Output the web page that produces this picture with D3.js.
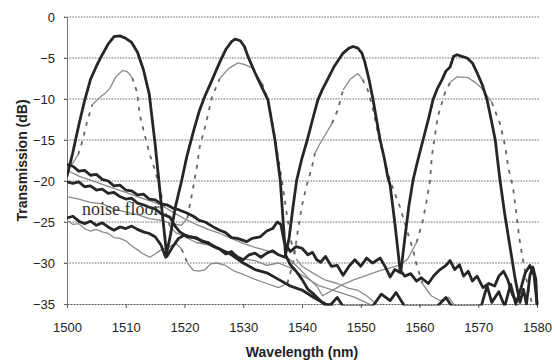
<!DOCTYPE html>
<html>
<head>
<meta charset="utf-8">
<script src="https://cdn.jsdelivr.net/npm/d3@7"></script>
<style>
  html, body { margin: 0; padding: 0; background: #fff; }
  svg { display: block; }
</style>
</head>
<body>
<svg id="chart" width="555" height="362"></svg>
<script>
// ---------------- DATA ----------------
const xTicks = [1500, 1510, 1520, 1530, 1540, 1550, 1560, 1570, 1580];
const yTicks = [0, -5, -10, -15, -20, -25, -30, -35];
const xTitle = "Wavelength (nm)";
const yTitle = "Transmission (dB)";
const annotation = "noise floor";

// Solid dark channel curves [wavelength nm, transmission dB]
const ch1Dark = [[1500,-19.4],[1501,-16.5],[1502,-13.2],[1503,-10.2],[1504,-7.6],[1505,-6.0],[1506,-4.6],[1507,-3.3],[1508,-2.4],[1509,-2.3],[1510,-2.6],[1511,-3.1],[1512,-4.3],[1513,-6.4],[1514,-9.4],[1515,-15.5],[1516,-22.5],[1517,-29.2],[1518,-28],[1519,-27],[1520,-26.6],[1522,-27],[1524,-27.6],[1526,-28.3],[1528,-29],[1530,-30],[1532,-30.8],[1534,-31.2],[1536,-32],[1538,-32.8],[1540,-33.3],[1542,-34.2],[1544,-35],[1546,-35.5]];
const ch2Dark = [[1500,-24.5],[1501,-24.3],[1502,-24.9],[1503,-25.2],[1504,-24.9],[1505,-25.4],[1506,-25.1],[1507,-25.6],[1508,-26],[1509,-25.6],[1510,-25.8],[1511,-25.5],[1512,-25.9],[1513,-26.2],[1514,-26.4],[1515,-26.8],[1516,-27.8],[1516.8,-29.3],[1517.5,-27],[1518.5,-23],[1519.5,-20],[1520.4,-17],[1521.5,-14],[1522.5,-11.5],[1523.5,-9.6],[1524.5,-8],[1526,-5.5],[1527,-4],[1528,-3],[1528.6,-2.7],[1529.5,-2.9],[1530.2,-3.6],[1530.8,-4.8],[1532,-6.8],[1533,-8.3],[1534.2,-10.1],[1535.4,-15],[1536.3,-19.9],[1536.8,-25],[1537.2,-29],[1538,-30.2],[1539,-31],[1540,-32],[1541,-33.2],[1542,-33.8],[1543,-34.5],[1544,-35.2],[1545,-35],[1546,-34.2],[1547,-35.3],[1552,-35.3],[1553.5,-33.8],[1555,-34.6],[1556,-33.6],[1557.5,-35.3],[1563,-35.3],[1564.5,-34.2],[1565.5,-35.3],[1570.5,-35.3],[1571.5,-32.8],[1572.3,-34.8],[1573.5,-33.5],[1574.5,-35.3],[1575.5,-32.6],[1576.5,-35.3]];
const ch3Dark = [[1500,-20.1],[1501,-20.3],[1502,-20.1],[1503,-20.7],[1504,-20.6],[1505,-21.1],[1506,-21],[1507,-21.5],[1508,-21.4],[1509,-21.9],[1510,-22.2],[1511,-22.1],[1512,-22.7],[1513,-22.9],[1514,-23.2],[1515,-23.4],[1516,-24],[1517.5,-24.4],[1518.5,-25.6],[1519.2,-26.2],[1520.5,-26.8],[1522,-26.9],[1523,-27.4],[1524,-27.5],[1525,-28.0],[1526,-28.3],[1527,-28.9],[1528,-28.6],[1529,-29.3],[1530,-29.6],[1531,-29],[1532,-28.8],[1533,-29.3],[1534,-28.8],[1535,-28.5],[1536,-29],[1537.1,-29.3],[1537.8,-27],[1538.5,-23],[1539.1,-19.9],[1540,-17.2],[1540.9,-15],[1541.8,-12.5],[1542.7,-10.1],[1543.5,-8.8],[1544.3,-7.7],[1545.5,-6],[1547,-4.4],[1548,-3.8],[1548.7,-3.6],[1549.5,-3.8],[1550.2,-4.4],[1550.7,-5.5],[1551.4,-7.6],[1552.1,-10.1],[1552.7,-12.6],[1553.3,-15],[1554,-17.2],[1554.6,-19.5],[1555,-20.5],[1555.8,-25.1],[1556.7,-30.9],[1557.5,-31.6],[1558.5,-31.3],[1559.5,-32.2],[1560.3,-31.8],[1561.5,-32.5],[1562.5,-31.5],[1563.5,-30.8],[1564.5,-30.3],[1565.2,-29.7],[1566,-30.8],[1566.8,-30.2],[1567.5,-31.6],[1568.3,-31],[1569,-32.2],[1569.8,-31.6],[1570.8,-33],[1571.8,-32.5],[1572.8,-32.8],[1573.5,-31.6],[1574.3,-31],[1575,-32],[1575.8,-33.8],[1576.5,-34.8],[1577.3,-33],[1578,-31.2],[1578.8,-30.3],[1579.5,-31.5],[1580,-35]];
const ch4Dark = [[1500,-18],[1501,-18.2],[1502,-18.8],[1503,-18.7],[1504,-19.3],[1505,-19.2],[1506,-19.8],[1507,-20],[1508,-20.6],[1509,-20.5],[1510,-21.1],[1511,-21.2],[1512,-21.7],[1513,-21.6],[1514,-22.2],[1515,-22.3],[1516,-22.8],[1517,-22.9],[1518,-23.3],[1519,-23.5],[1520.4,-23.9],[1521.5,-24.3],[1522.5,-24.8],[1523.5,-25],[1524.9,-25.6],[1526,-26],[1527,-26.3],[1528,-26.9],[1529,-27],[1530.6,-27.4],[1531.5,-27],[1532.9,-26.8],[1534,-26.1],[1535,-25.8],[1535.8,-25],[1536.4,-25.3],[1537,-27.5],[1538,-28.6],[1539,-28],[1540,-28.2],[1541,-29],[1541.8,-28.7],[1542.5,-29.6],[1543.2,-29.9],[1544,-29.2],[1545,-30.4],[1546,-30.3],[1547,-31.5],[1548,-30.4],[1549,-29.6],[1550,-30.4],[1551,-29.4],[1552,-30],[1553.3,-29.4],[1554.2,-30.5],[1555,-31.7],[1555.8,-30.8],[1556.8,-31.2],[1557.5,-27],[1558.2,-23],[1558.9,-19.9],[1559.7,-17.5],[1560.6,-15],[1561.5,-12.5],[1562.3,-10.1],[1563,-8.8],[1563.8,-7.7],[1564.5,-6.6],[1565.2,-6.1],[1565.8,-4.8],[1566.4,-4.6],[1567.2,-4.8],[1568.1,-5],[1569,-5.6],[1569.8,-6.8],[1570.7,-8.3],[1571.5,-10.1],[1572.2,-12.5],[1572.9,-15],[1573.3,-17.5],[1573.7,-19.9],[1574.5,-24],[1575.4,-28],[1576.3,-32],[1577.1,-34.8],[1577.7,-33.2],[1578.2,-35],[1578.8,-31.5],[1579.3,-30.5],[1579.8,-32],[1580,-35]];

// Grey (dashed on the flanks) channel curves
const ch1Grey = [[1500,-18.6],[1501,-17.8],[1501.9,-16.8],[1502.6,-15.2],[1503.4,-12.8],[1504.3,-10.7],[1505.6,-9.8],[1506.5,-9.3],[1507.3,-8.7],[1508.3,-7.3],[1509.5,-6.5],[1510.3,-6.7],[1511.1,-7.4],[1511.9,-9.1],[1512.4,-12],[1513.3,-14.6],[1514.1,-16.8],[1515,-18.7],[1515.8,-21],[1516.5,-23],[1517.5,-25.5],[1518.5,-26.3],[1520,-26.8],[1522,-27.5],[1524,-27.8],[1526,-28.4],[1528,-28.7],[1530,-29.5],[1532,-29.7],[1534,-30.3],[1536,-30],[1538,-30.6],[1540,-31.5],[1543,-32.8],[1546,-33.5],[1549,-34.2],[1552,-35.2]];
const ch2Grey = [[1500,-21.9],[1502,-22.2],[1504,-22.6],[1506,-22.8],[1508,-23.4],[1510,-23.8],[1512,-24.1],[1514,-24.6],[1516,-24.8],[1518,-25.2],[1519.5,-25.4],[1520.5,-24.5],[1521.3,-21.5],[1522.1,-18.3],[1522.6,-15.8],[1523.5,-13.4],[1524.7,-9.7],[1526,-7.5],[1527.5,-6.3],[1529.1,-5.6],[1530.3,-5.8],[1531.5,-6.2],[1533.2,-8.1],[1534.2,-10.1],[1535,-13],[1535.8,-16.5],[1536.6,-20],[1537.4,-24],[1538.2,-27.5],[1539,-29.5],[1540,-30.4],[1542,-31.3],[1544,-32.1],[1546,-32.5],[1548,-33.1],[1549.4,-33.3],[1551,-34],[1553,-35.2]];
const ch3Grey = [[1500,-24.8],[1501,-25.3],[1502,-25.2],[1503,-25.8],[1504,-26.1],[1505,-25.9],[1506,-26.2],[1507,-26.4],[1508,-26.9],[1509,-27],[1510,-27.3],[1511,-27.9],[1512,-28.4],[1513,-28.9],[1514.1,-29.3],[1515,-28.9],[1516,-28.4],[1517.5,-28],[1518.5,-27.6],[1519.5,-28.3],[1520.5,-30],[1521.5,-30.9],[1522.5,-31],[1523.5,-30.8],[1524.5,-30.1],[1525.5,-30],[1527,-30.3],[1528.5,-31],[1530,-31.4],[1532,-32],[1534,-32.5],[1536,-33],[1537.5,-32.5],[1538.5,-30],[1539.3,-26],[1540,-23],[1540.8,-20.5],[1541.7,-18.3],[1542.2,-16.6],[1543.1,-15.4],[1545.1,-13],[1546.1,-11.3],[1547,-8.9],[1548.2,-7.6],[1549.5,-6.9],[1550.3,-7.6],[1551.2,-8.9],[1552.1,-11.3],[1552.9,-14.1],[1553.8,-16.8],[1554.8,-19.5],[1555.8,-21.5],[1556.7,-23.2],[1557.2,-24.4],[1558.2,-26.8],[1558.9,-28.4],[1559.5,-30.2],[1560.5,-32.5],[1562,-34],[1563.5,-34.6],[1565,-34.2],[1566,-35.2]];
const ch4Grey = [[1500,-18.7],[1502,-19.4],[1504,-19.9],[1506,-20.4],[1508,-20.9],[1510,-21.4],[1512,-21.9],[1514,-22.4],[1516,-22.9],[1518,-23.8],[1520,-24.6],[1522,-25.3],[1524,-25.9],[1526,-26.4],[1528,-27],[1530,-27.6],[1532,-28.1],[1534,-28.5],[1536,-29],[1538,-29.6],[1539.7,-30.8],[1541,-31.8],[1542.5,-32.8],[1543.5,-34],[1545,-33.4],[1547,-32.6],[1549,-32],[1551,-31.5],[1553,-31],[1555,-30.6],[1556.5,-30.3],[1558,-29.5],[1559.5,-27.5],[1560.5,-25],[1561.2,-22.5],[1561.8,-19.9],[1562.1,-17],[1562.6,-14.6],[1563.1,-12.2],[1563.8,-10.5],[1564.3,-9.3],[1565.2,-8],[1566.4,-7.3],[1568.3,-7.4],[1569.5,-8],[1570.6,-8.7],[1572.3,-10.4],[1573.7,-13],[1574.6,-15.8],[1575.1,-18.3],[1575.9,-20.7],[1576.5,-24],[1577,-27],[1577.6,-29.6],[1578.2,-32],[1578.8,-34],[1579.3,-35.2]];

const darkSeries = [ch1Dark, ch2Dark, ch3Dark, ch4Dark];
const greySeries = [ch1Grey, ch2Grey, ch3Grey, ch4Grey];

// ---------------- DRAW ----------------
const svg = d3.select("#chart");
const x = d3.scaleLinear().domain([1500, 1580]).range([67, 537]);
const y = d3.scaleLinear().domain([-35, 0]).range([304, 17]);

svg.append("defs").append("clipPath").attr("id", "plotclip")
  .append("rect")
  .attr("x", x(1500)).attr("y", y(0) - 2)
  .attr("width", x(1580) - x(1500) + 3)
  .attr("height", y(-35) - y(0) + 3.5);

// gridlines
svg.append("g").selectAll("line")
  .data(yTicks.filter(d => d !== -35))
  .join("line")
  .attr("x1", x(1500) - 3).attr("x2", x(1580) + 3)
  .attr("y1", d => y(d)).attr("y2", d => y(d))
  .attr("stroke", "#6e6e6e").attr("stroke-width", 1)
  .attr("stroke-dasharray", "1.6,1.2");

// x axis
const xAxis = svg.append("g")
  .attr("transform", `translate(0,${y(-35)})`)
  .call(d3.axisBottom(x).tickValues(xTicks).tickSize(4).tickPadding(15).tickSizeOuter(0).tickFormat(d3.format("d")));
xAxis.select(".domain").attr("stroke", "#555").attr("stroke-dasharray", "2,1");
xAxis.selectAll(".tick line").attr("stroke", "#555");
xAxis.selectAll("text").attr("font-family", "Liberation Sans, Arial, sans-serif")
  .attr("font-size", 13).attr("fill", "#222");

// y axis
const yAxis = svg.append("g")
  .attr("transform", `translate(${x(1500)},0)`)
  .call(d3.axisLeft(y).tickValues(yTicks).tickSize(3).tickPadding(9).tickSizeOuter(0).tickFormat(d3.format("d")));
yAxis.select(".domain").attr("stroke", "#777");
yAxis.selectAll(".tick line").attr("stroke", "#666");
yAxis.selectAll("text").attr("font-family", "Liberation Sans, Arial, sans-serif")
  .attr("font-size", 13).attr("fill", "#222");

// titles
svg.append("text")
  .attr("x", (x(1500) + x(1580)) / 2).attr("y", 357)
  .attr("text-anchor", "middle")
  .attr("font-family", "Liberation Sans, Arial, sans-serif")
  .attr("font-weight", "bold").attr("font-size", 14).attr("fill", "#222")
  .text(xTitle);
svg.append("text")
  .attr("transform", `translate(27,${(y(0) + y(-35)) / 2}) rotate(-90)`)
  .attr("text-anchor", "middle")
  .attr("font-family", "Liberation Sans, Arial, sans-serif")
  .attr("font-weight", "bold").attr("font-size", 14).attr("fill", "#222")
  .text(yTitle);

const plot = svg.append("g").attr("clip-path", "url(#plotclip)");
const line = d3.line().x(d => x(d[0])).y(d => y(d[1]));

// grey curves: solid where flat, dashed on steep flanks
function runs(data) {
  const out = [];
  let cur = null;
  for (let i = 0; i < data.length - 1; i++) {
    const a = data[i], b = data[i + 1];
    const slope = Math.abs(y(b[1]) - y(a[1])) / Math.max(0.01, Math.abs(x(b[0]) - x(a[0])));
    const steep = slope > 2.0;
    if (!cur || cur.steep !== steep) { cur = { steep, pts: [a] }; out.push(cur); }
    cur.pts.push(b);
  }
  return out;
}
greySeries.forEach(s => {
  plot.append("g").selectAll("path")
    .data(runs(s))
    .join("path")
    .attr("d", r => line(r.pts))
    .attr("fill", "none")
    .attr("stroke", r => r.steep ? "#666" : "#8a8a8a")
    .attr("stroke-width", r => r.steep ? 1.8 : 1.3)
    .attr("stroke-dasharray", r => r.steep ? "4,6" : null)
    .attr("stroke-linejoin", "round");
});

// dark curves
plot.append("g").selectAll("path")
  .data(darkSeries)
  .join("path")
  .attr("d", line)
  .attr("fill", "none")
  .attr("stroke", "#262626")
  .attr("stroke-width", 2.8)
  .attr("stroke-linejoin", "round")
  .attr("stroke-linecap", "round");

// annotation
svg.append("text")
  .attr("x", 82).attr("y", 215)
  .attr("font-family", "Liberation Serif, Times New Roman, serif")
  .attr("font-size", 18).attr("fill", "#333")
  .text(annotation);
</script>
</body>
</html>
